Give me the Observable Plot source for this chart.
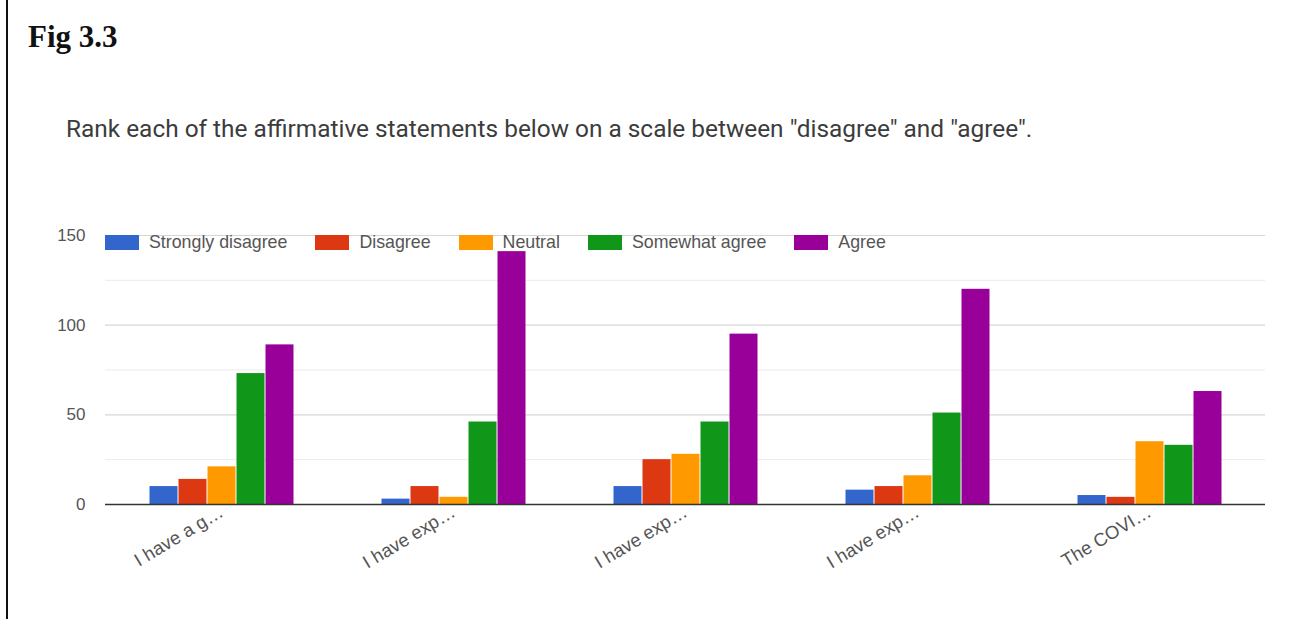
<!DOCTYPE html>
<html>
<head>
<meta charset="utf-8">
<script src="https://cdn.jsdelivr.net/npm/d3@7"></script>
<script src="https://cdn.jsdelivr.net/npm/@observablehq/plot@0.6"></script>
<style>
  html, body { margin: 0; padding: 0; background: #fff; }
  body { width: 1307px; height: 619px; position: relative; overflow: hidden; }
  #vline { position: absolute; left: 6px; top: 0; width: 2px; height: 619px; background: #111; }
  #title { position: absolute; left: 28px; top: 19px; font-family: "Liberation Serif", serif; font-weight: bold; font-size: 31px; color: #111; }
  #subtitle { position: absolute; left: 66px; top: 114px; font-family: Roboto, "Liberation Sans", sans-serif; font-size: 24.4px; color: #3c3c3c; white-space: nowrap; }
  #chart { position: absolute; left: 0; top: 200px; }
  #legend { position: absolute; left: 105px; top: 232px; display: flex; align-items: center; gap: 28px; font-family: "Liberation Sans", Arial, sans-serif; font-size: 17.8px; color: #555; }
  .item { display: flex; align-items: center; gap: 10px; }
  .sw { width: 34px; height: 15px; }
  #chart g[aria-label^="fx-axis"] { font-size: 18.5px; }
</style>
</head>
<body>
<div id="vline"></div>
<div id="title">Fig 3.3</div>
<div id="subtitle">Rank each of the affirmative statements below on a scale between "disagree" and "agree".</div>
<div id="chart"></div>
<div id="legend"></div>
<script>
const groups = [0, 1, 2, 3, 4];
const groupLabels = ["I have a g…", "I have exp…", "I have exp…", "I have exp…", "The COVI…"];
const series = ["Strongly disagree", "Disagree", "Neutral", "Somewhat agree", "Agree"];
const colors = ["#3366cc", "#dc3912", "#ff9900", "#109618", "#990099"];
const stronglyDisagree = [10, 3, 10, 8, 5];
const disagree = [14, 10, 25, 10, 4];
const neutral = [21, 4, 28, 16, 35];
const somewhatAgree = [73, 46, 46, 51, 33];
const agree = [89, 141, 95, 120, 63];
const yTicks = [0, 50, 100, 150];
const minorTicks = [25, 75, 125];

const seriesValues = [stronglyDisagree, disagree, neutral, somewhatAgree, agree];
const rows = [];
groups.forEach((g, gi) => {
  series.forEach((s, si) => rows.push({group: g, series: s, value: seriesValues[si][gi]}));
});

const chart = Plot.plot({
  width: 1307,
  height: 400,
  marginLeft: 105,
  marginRight: 42,
  marginTop: 35,
  marginBottom: 96,
  style: {fontFamily: '"Liberation Sans", Arial, sans-serif', fontSize: "17px", color: "#555", background: "transparent"},
  facet: {data: rows, x: "group"},
  fx: {domain: groups, padding: 0, label: null, tickFormat: i => groupLabels[i], tickRotate: -31, tickSize: 0, tickPadding: 6},
  x: {domain: series, paddingInner: 0, paddingOuter: 1.5, axis: null},
  y: {domain: [0, 150], ticks: yTicks, tickSize: 0, tickPadding: 20, label: null},
  color: {domain: series, range: colors},
  marks: [
    Plot.ruleY(minorTicks, {stroke: "#ebebeb", strokeWidth: 1}),
    Plot.ruleY(yTicks.filter(d => d > 0), {stroke: "#d6d6d6", strokeWidth: 1.2}),
    Plot.barY(rows, {x: "series", y: "value", fill: "series", insetLeft: 0.5, insetRight: 0.5}),
    Plot.ruleY([0], {stroke: "#333", strokeWidth: 1.5})
  ]
});
document.getElementById("chart").appendChild(chart);

const legend = document.getElementById("legend");
series.forEach((s, i) => {
  const item = document.createElement("div");
  item.className = "item";
  const sw = document.createElement("div");
  sw.className = "sw";
  sw.style.background = colors[i];
  const t = document.createElement("span");
  t.textContent = s;
  item.appendChild(sw);
  item.appendChild(t);
  legend.appendChild(item);
});
</script>
</body>
</html>
